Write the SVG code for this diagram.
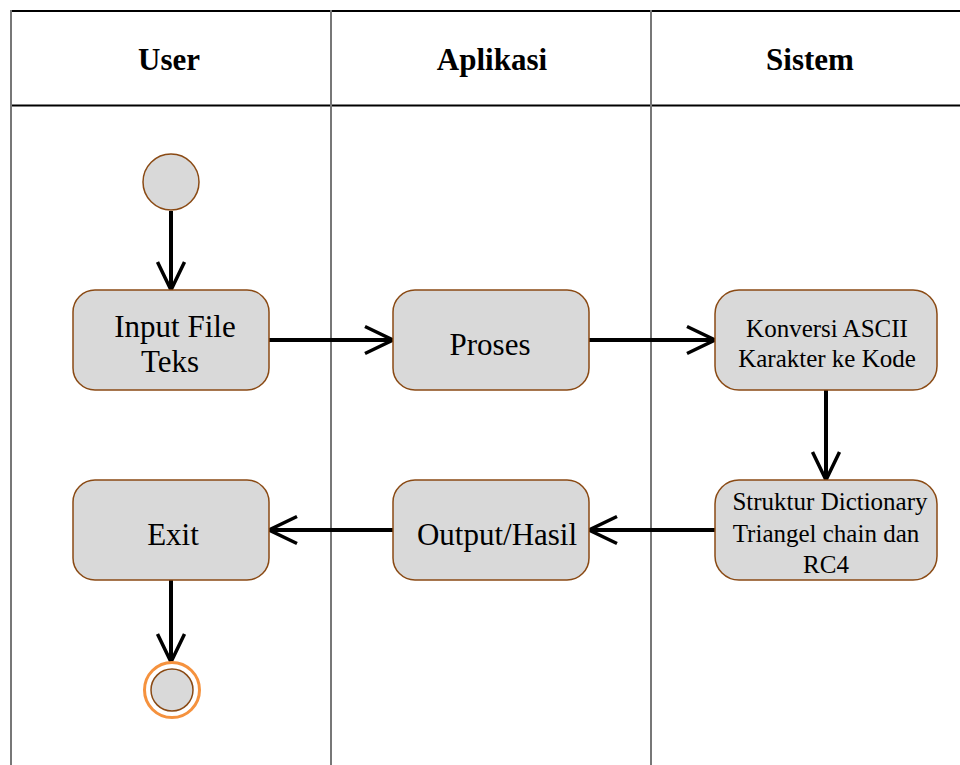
<svg xmlns="http://www.w3.org/2000/svg" width="960" height="765" viewBox="0 0 960 765">
<style>
.hdr{font-weight:bold;font-size:31px;fill:#000;text-anchor:middle}
.t{font-size:31px;fill:#000;text-anchor:middle}
.s{font-size:25px;fill:#000;text-anchor:middle}
.box{fill:#d9d9d9;stroke:#8a4a14;stroke-width:1.5}
.grid{stroke:#777;stroke-width:2}
.edge{stroke:#000;stroke-width:4;fill:none;marker-end:url(#arr)}
</style>
<defs>
<marker id="arr" viewBox="-32 -17 34 34" markerWidth="34" markerHeight="34" refX="0" refY="0" orient="auto" markerUnits="userSpaceOnUse">
<path d="M -28 -13.5 L 0 0 L -28 13.5" fill="none" stroke="#000" stroke-width="3.5"/>
</marker>
</defs>
<rect width="960" height="765" fill="#fff"/>
<g font-family="Liberation Serif, Times New Roman, DejaVu Serif, serif">
<g id="table">
<line x1="10" y1="11" x2="960" y2="11" stroke="#000" stroke-width="2"/>
<line x1="10" y1="105.5" x2="960" y2="105.5" stroke="#000" stroke-width="2"/>
<line class="grid" x1="11" y1="10" x2="11" y2="765"/>
<line class="grid" x1="331" y1="10" x2="331" y2="765"/>
<line class="grid" x1="651" y1="10" x2="651" y2="765"/>
<text class="hdr" x="169" y="70">User</text>
<text class="hdr" x="492" y="70">Aplikasi</text>
<text class="hdr" x="810" y="70">Sistem</text>
</g>
<g id="connectors">
<line class="edge" x1="171" y1="211" x2="171" y2="290"/>
<line class="edge" x1="269" y1="340" x2="393" y2="340"/>
<line class="edge" x1="589" y1="340" x2="715" y2="340"/>
<line class="edge" x1="826" y1="390" x2="826" y2="480"/>
<line class="edge" x1="715" y1="530" x2="589" y2="530"/>
<line class="edge" x1="393" y1="530" x2="269" y2="530"/>
<line class="edge" x1="171" y1="580" x2="171" y2="662"/>
</g>
<g id="start">
<circle class="box" cx="171" cy="182" r="28"/>
</g>
<g id="input">
<rect class="box" x="73" y="290" width="196" height="100" rx="22"/>
<text class="t" x="175" y="337">Input File</text>
<text class="t" x="170" y="372">Teks</text>
</g>
<g id="proses">
<rect class="box" x="393" y="290" width="196" height="100" rx="22"/>
<text class="t" x="490" y="355">Proses</text>
</g>
<g id="konversi">
<rect class="box" x="715" y="290" width="222" height="100" rx="24"/>
<text class="s" x="827" y="337">Konversi ASCII</text>
<text class="s" x="827" y="367">Karakter ke Kode</text>
</g>
<g id="struktur">
<rect class="box" x="715" y="480" width="222" height="100" rx="24"/>
<text class="s" x="830" y="510">Struktur Dictionary</text>
<text class="s" x="826" y="542">Triangel chain dan</text>
<text class="s" x="826" y="573">RC4</text>
</g>
<g id="output">
<rect class="box" x="393" y="480" width="196" height="100" rx="22"/>
<text class="t" x="497" y="545">Output/Hasil</text>
</g>
<g id="exit">
<rect class="box" x="73" y="480" width="196" height="100" rx="22"/>
<text class="t" x="173" y="545">Exit</text>
</g>
<g id="end">
<circle cx="172" cy="690" r="27.5" fill="#fff" stroke="#f5923e" stroke-width="3"/>
<circle class="box" cx="172" cy="690" r="21"/>
</g>
</g>
</svg>
